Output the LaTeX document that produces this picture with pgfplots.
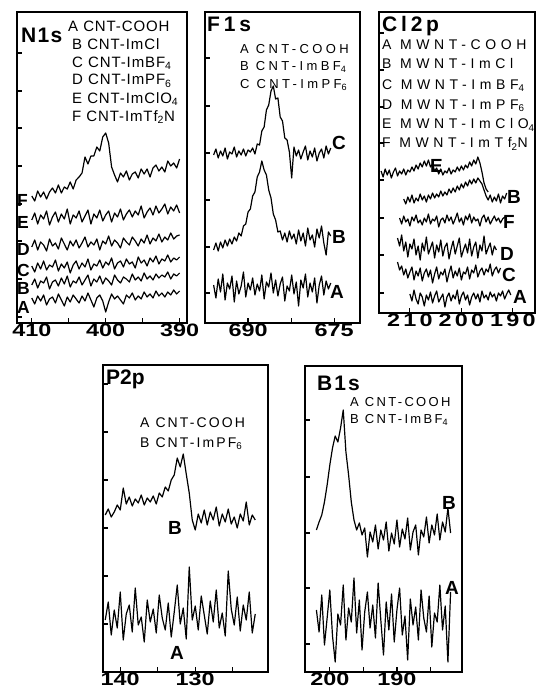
\documentclass[border=0pt]{standalone}
\usepackage{fontspec}
\setmainfont{Liberation Sans}
\newfontfamily\tickf[FakeStretch=1.3]{Liberation Sans}
\usepackage{pgfplots}
\pgfplotsset{compat=1.18}
\usepackage{pgfplotstable}

% text styles
\newcommand\tickfont{\fontsize{18}{18}\tickf\bfseries}
\newcommand\ttl[1]{\fontsize{21}{21}\selectfont\bfseries\addfontfeature{LetterSpace=#1}}
\newcommand\leg[2]{\fontsize{#1}{#1}\selectfont\addfontfeature{LetterSpace=#2}}
\newcommand\lab{\fontsize{19}{19}\selectfont\bfseries}
\newcommand\labs{\fontsize{17.5}{17.5}\selectfont\bfseries}

% N1s: x F E D C B A
\pgfplotstableread{
x F E D C B A
410.0 134 110 83 64 45 32
409.6 129 117 90 58 51 26
409.2 139 106 80 67 42 34
408.8 133 115 88 61 49 29
408.4 138 111 85 69 47 35
408.0 131 119 79 60 53 25
407.6 138 105 91 65 41 31
407.2 142 113 84 63 48 33
406.8 137 118 87 70 50 27
406.4 145 108 81 59 44 36
406.0 137 116 92 66 52 30
405.6 143 111 86 62 46 24
405.2 141 121 80 68 54 33
404.8 148 106 89 57 43 28
404.4 141 115 84 65 49 35
404.0 150 112 90 69 47 31
403.6 153 119 82 61 53 27
403.2 157 108 87 67 45 34
402.8 173 114 93 63 50 29
402.4 166 120 83 71 55 37
402.0 174 106 88 60 44 30
401.6 174 116 85 66 51 23
401.2 183 112 91 64 48 32
400.8 179 120 80 70 54 35
400.4 193 109 89 62 46 29
400.0 197 115 86 68 52 18
399.6 187 119 94 65 49 28
399.2 163 108 84 72 45 36
398.8 155 117 90 61 55 31
398.4 148 113 87 67 50 34
398.0 157 121 82 69 47 30
397.6 153 110 92 63 53 26
397.2 159 116 88 71 51 35
396.8 150 120 85 66 48 32
396.4 156 113 93 68 56 37
396.0 158 119 89 62 50 30
395.6 152 115 84 73 53 34
395.2 161 124 91 67 49 31
394.8 156 112 87 70 57 38
394.4 161 118 95 64 51 33
394.0 153 122 86 72 54 36
393.6 162 115 92 68 50 32
393.2 165 124 89 74 56 39
392.8 159 117 96 66 52 34
392.4 163 121 88 71 55 37
392.0 158 126 93 69 53 33
391.6 169 116 90 75 58 38
391.2 164 123 97 68 51 35
390.8 167 119 91 72 56 40
390.4 162 125 94 70 54 36
390.0 171 117 95 73 57 39
}\nonedata

% F1s: x C B A
\pgfplotstableread{
x C B A
696.0 175 80 45
695.6 181 87 32
695.2 172 79 51
694.8 179 88 38
694.4 174 82 56
694.0 182 90 30
693.6 171 84 47
693.2 178 91 41
692.8 176 86 54
692.4 183 93 28
692.0 173 89 49
691.6 179 97 36
691.2 175 94 44
690.8 181 104 58
690.4 174 106 33
690.0 180 118 47
689.6 178 121 40
689.2 182 134 52
688.8 176 138 35
688.4 186 153 46
688.0 185 158 39
687.6 199 169 55
687.2 203 160 31
686.8 220 155 48
686.4 225 140 43
686.0 239 132 57
685.6 244 116 37
685.2 231 110 50
684.8 232 98 34
684.4 213 99 46
684.0 209 90 53
683.6 192 97 29
683.2 190 88 44
682.8 178 99 39
682.4 152 91 55
682.0 183 96 36
681.6 174 86 48
681.2 180 100 24
680.8 171 89 50
680.4 178 97 42
680.0 184 84 56
679.6 170 102 33
679.2 179 90 47
678.8 173 95 38
678.4 182 83 52
678.0 169 101 27
677.6 177 92 45
677.2 181 104 54
676.8 172 87 35
676.4 184 75 49
676.0 176 98 41
675.6 182 94 47
}\fonedata

% P2p: x B A
\pgfplotstableread{
x B A
142.0 165 60
141.6 171 78
141.2 163 45
140.8 168 70
140.4 175 52
140.0 170 88
139.6 192 40
139.2 176 66
138.8 183 75
138.4 174 48
138.0 181 92
137.6 177 55
137.2 185 63
136.8 175 38
136.4 182 80
136.0 178 58
135.6 184 71
135.2 176 47
134.8 187 85
134.4 183 62
134.0 193 50
133.6 189 77
133.2 200 43
132.8 205 68
132.4 222 95
132.0 213 56
131.6 226 72
131.2 206 41
130.8 187 113
130.4 160 60
130.0 150 74
129.6 166 50
129.2 157 84
128.8 170 65
128.4 155 46
128.0 168 79
127.6 160 58
127.2 173 90
126.8 154 52
126.4 166 67
126.0 158 44
125.6 171 109
125.2 156 71
124.8 163 55
124.4 152 83
124.0 166 49
123.6 159 75
123.2 178 60
122.8 155 88
122.4 165 47
122.0 160 66
}\ptwopdata

% B1s: x B A
\pgfplotstableread{
x B A
202.0 150 70
201.6 158 48
201.2 165 85
200.8 178 35
200.4 195 62
200.0 215 90
199.6 232 44
199.2 244 18
198.8 238 66
198.4 252 55
198.0 270 95
197.6 228 40
197.2 205 72
196.8 178 58
196.4 160 102
196.0 150 47
195.6 157 80
195.2 145 30
194.8 152 68
194.4 123 88
194.0 148 52
193.6 138 75
193.2 155 42
192.8 131 97
192.4 150 60
192.0 140 25
191.6 158 78
191.2 129 50
190.8 147 86
190.4 136 38
190.0 160 70
189.6 133 92
189.2 151 45
188.8 141 64
188.4 162 20
188.0 130 81
187.6 148 55
187.2 155 73
186.8 125 40
186.4 150 90
186.0 143 62
185.6 163 48
185.2 137 84
184.8 155 33
184.4 145 67
184.0 166 58
183.6 140 95
183.2 158 50
182.8 148 74
182.4 172 18
182.0 147 88
}\bonedata

\pgfplotsset{
  xps/.style={
    scale only axis,
    x dir=reverse,
    axis line style={line width=1.8pt},
    tick align=inside,
    tick pos=left,
    major tick length=5pt,
    every tick/.style={black, line width=1.2pt},
    yticklabels={},
    xticklabel style={font=\tickfont, inner sep=1pt},
    /pgf/number format/assume math mode=true,
    cycle list={{black,mark=none,line width=1.2pt,line join=round},{black,mark=none,line width=1.2pt,line join=round}},
  },
}

\begin{document}
\begin{tikzpicture}[x=1pt, y=1pt]
\path[use as bounding box] (0,0) rectangle (539,699);

% N1s
\begin{axis}[xps, at={(17pt,376pt)}, anchor=south west,
  width=170pt, height=311pt,
  xmin=389, xmax=412, ymin=7, ymax=318,
  xtick={390,395,400,405,410}, xticklabels={390,,400,,410},
  ytick={13,51,89,126,164,202,239,277}]
\addplot table[x=x, y=A] {\nonedata};
\addplot table[x=x, y=B] {\nonedata};
\addplot table[x=x, y=C] {\nonedata};
\addplot table[x=x, y=D] {\nonedata};
\addplot table[x=x, y=E] {\nonedata};
\addplot table[x=x, y=F] {\nonedata};
\end{axis}

% F1s
\begin{axis}[xps, at={(205pt,376pt)}, anchor=south west,
  width=155pt, height=311pt,
  xmin=670.5, xmax=697.5, ymin=7, ymax=318,
  xtick={675,682.5,690}, xticklabels={675,,690},
  ytick={37,83,130,177,224,272}]
\addplot table[x=x, y=A] {\fonedata};
\addplot table[x=x, y=B] {\fonedata};
\addplot table[x=x, y=C] {\fonedata};
\end{axis}

% Cl2p
\begin{axis}[xps, at={(379pt,386pt)}, anchor=south west,
  width=156pt, height=301pt,
  xmin=185.7, xmax=216, ymin=17, ymax=318,
  xtick={190,200,210}, xticklabels={190,200,210},
  xticklabel style={font=\tickfont\addfontfeature{LetterSpace=18}},
  ytick={37,75,112,150,187,223,260,297}]
% E
\addplot coordinates {
(215.6,159)(215.2,153)(214.8,161)(214.4,155)(214.0,160)(213.6,152)(213.2,158)(212.8,162)(212.4,154)(212.0,159)
(211.6,156)(211.2,161)(210.8,155)(210.4,160)(210.0,158)(209.6,163)(209.2,159)(208.8,165)(208.4,161)(208.0,167)
(207.6,163)(207.2,169)(206.8,164)(206.4,170)(206.0,163)(205.6,166)(205.2,159)(204.8,162)(204.4,156)(204.0,161)
(203.6,155)(203.2,159)(202.8,157)(202.4,162)(202.0,156)(201.6,160)(201.2,158)(200.8,163)(200.4,159)(200.0,164)
(199.6,160)(199.2,165)(198.8,162)(198.4,168)(198.0,164)(197.6,170)(197.2,166)(196.8,173)(196.4,167)(196.0,158)
(195.6,147)(195.2,141)(194.8,138)};
% B
\addplot coordinates {
(211.2,131)(210.8,126)(210.4,133)(210.0,128)(209.6,135)(209.2,127)(208.8,132)(208.4,129)(208.0,136)(207.6,130)
(207.2,134)(206.8,128)(206.4,135)(206.0,131)(205.6,137)(205.2,132)(204.8,136)(204.4,133)(204.0,139)(203.6,134)
(203.2,138)(202.8,135)(202.4,141)(202.0,137)(201.6,142)(201.2,138)(200.8,144)(200.4,140)(200.0,146)(199.6,142)
(199.2,148)(198.8,144)(198.4,150)(198.0,146)(197.6,151)(197.2,147)(196.8,152)(196.4,149)(196.0,146)(195.6,140)
(195.2,134)(194.8,130)(194.4,135)(194.0,128)(193.6,133)(193.2,129)(192.8,136)(192.4,127)(192.0,134)(191.6,131)
(191.2,137)};
% F
\addplot coordinates {
(212.0,112)(211.6,106)(211.2,114)(210.8,108)(210.4,111)(210.0,104)(209.6,113)(209.2,109)(208.8,115)(208.4,107)
(208.0,110)(207.6,105)(207.2,112)(206.8,108)(206.4,116)(206.0,106)(205.6,111)(205.2,109)(204.8,114)(204.4,103)
(204.0,110)(203.6,112)(203.2,107)(202.8,115)(202.4,109)(202.0,113)(201.6,106)(201.2,111)(200.8,117)(200.4,108)
(200.0,112)(199.6,105)(199.2,114)(198.8,110)(198.4,116)(198.0,107)(197.6,113)(197.2,109)(196.8,111)(196.4,104)
(196.0,112)(195.6,115)(195.2,108)(194.8,113)(194.4,106)(194.0,110)(193.6,114)(193.2,109)(192.8,112)(192.4,107)
(192.0,111)(191.6,113)(191.2,110)};
% D
\addplot coordinates {
(212.4,92)(212.0,84)(211.6,95)(211.2,79)(210.8,88)(210.4,73)(210.0,86)(209.6,81)(209.2,91)(208.8,75)
(208.4,84)(208.0,70)(207.6,87)(207.2,79)(206.8,93)(206.4,76)(206.0,82)(205.6,88)(205.2,72)(204.8,85)
(204.4,78)(204.0,90)(203.6,74)(203.2,83)(202.8,87)(202.4,71)(202.0,81)(201.6,89)(201.2,76)(200.8,84)
(200.4,92)(200.0,73)(199.6,80)(199.2,86)(198.8,77)(198.4,91)(198.0,74)(197.6,83)(197.2,88)(196.8,72)
(196.4,85)(196.0,79)(195.6,94)(195.2,76)(194.8,82)(194.4,87)(194.0,75)(193.6,84)(193.2,80)};
% C
\addplot coordinates {
(212.4,68)(212.0,60)(211.6,64)(211.2,55)(210.8,61)(210.4,52)(210.0,58)(209.6,63)(209.2,50)(208.8,59)
(208.4,54)(208.0,62)(207.6,49)(207.2,57)(206.8,61)(206.4,53)(206.0,60)(205.6,47)(205.2,56)(204.8,63)
(204.4,51)(204.0,58)(203.6,55)(203.2,61)(202.8,48)(202.4,57)(202.0,64)(201.6,52)(201.2,59)(200.8,54)
(200.4,62)(200.0,50)(199.6,58)(199.2,56)(198.8,63)(198.4,51)(198.0,60)(197.6,57)(197.2,65)(196.8,53)
(196.4,59)(196.0,62)(195.6,55)(195.2,61)(194.8,58)(194.4,66)(194.0,54)(193.6,60)(193.2,63)(192.8,57)
(192.4,62)};
% A
\addplot coordinates {
(210.0,36)(209.6,29)(209.2,40)(208.8,31)(208.4,26)(208.0,37)(207.6,33)(207.2,24)(206.8,35)(206.4,30)
(206.0,38)(205.6,27)(205.2,34)(204.8,39)(204.4,28)(204.0,32)(203.6,36)(203.2,23)(202.8,33)(202.4,37)
(202.0,29)(201.6,35)(201.2,31)(200.8,40)(200.4,26)(200.0,34)(199.6,38)(199.2,30)(198.8,35)(198.4,25)
(198.0,33)(197.6,37)(197.2,31)(196.8,36)(196.4,28)(196.0,39)(195.6,32)(195.2,35)(194.8,30)(194.4,38)
(194.0,33)(193.6,36)(193.2,29)(192.8,37)(192.4,34)(192.0,39)(191.6,31)(191.2,36)(190.8,40)(190.4,35)};
\end{axis}

% P2p
\begin{axis}[xps, at={(103pt,27pt)}, anchor=south west,
  width=165pt, height=307pt,
  xmin=120.3, xmax=142.3, ymin=8, ymax=315,
  xtick={125,130,135,140}, xticklabels={,130,,140},
  ytick={56,104,152,200,248,296}]
\addplot table[x=x, y=A] {\ptwopdata};
\addplot table[x=x, y=B] {\ptwopdata};
\end{axis}

% B1s
\begin{axis}[xps, at={(305pt,27pt)}, anchor=south west,
  width=157pt, height=306pt,
  xmin=180.3, xmax=203.7, ymin=8, ymax=314,
  xtick={185,190,195,200}, xticklabels={,190,,200},
  ytick={36,92,147,203,260}]
\addplot table[x=x, y=A] {\bonedata};
\addplot table[x=x, y=B] {\bonedata};
\end{axis}

% texts, placed in picture pixels (y downwards)
\begin{scope}[shift={(0,699)}, y=-1pt, every node/.style={anchor=west, inner sep=0pt}]
% N1s
\node[font=\ttl{6}] at (21,35) {N1s};
\node[font=\leg{15}{6}] at (68,26) {A CNT-COOH};
\node[font=\leg{15}{6}] at (72,44) {B CNT-ImCl};
\node[font=\leg{15}{6}] at (72,63) {C CNT-ImBF\textsubscript{4}};
\node[font=\leg{15}{6}] at (72,81) {D CNT-ImPF\textsubscript{6}};
\node[font=\leg{15}{6}] at (72,99) {E CNT-ImClO\textsubscript{4}};
\node[font=\leg{15}{6}] at (72,117) {F CNT-ImTf\textsubscript{2}N};
\node[font=\labs] at (17,200) {F};
\node[font=\labs] at (17,222) {E};
\node[font=\labs] at (17,249) {D};
\node[font=\labs] at (17,270) {C};
\node[font=\labs] at (17,288) {B};
\node[font=\labs] at (17,307) {A};
% F1s
\node[font=\ttl{18}] at (207,24) {F1s};
\node[font=\leg{13}{26}] at (240,49) {A CNT-COOH};
\node[font=\leg{13}{26}] at (240,67) {B CNT-ImBF\textsubscript{4}};
\node[font=\leg{13}{26}] at (240,85) {C CNT-ImPF\textsubscript{6}};
\node[font=\lab] at (332,143) {C};
\node[font=\lab] at (332,237) {B};
\node[font=\lab] at (330,292) {A};
% Cl2p
\node[font=\ttl{18}] at (382,26) {Cl2p};
\node[font=\leg{14}{33}] at (382,45) {A MWNT-COOH};
\node[font=\leg{14}{33}] at (382,64) {B MWNT-ImCl};
\node[font=\leg{14}{33}] at (382,86) {C MWNT-ImBF\textsubscript{4}};
\node[font=\leg{14}{33}] at (382,106) {D MWNT-ImPF\textsubscript{6}};
\node[font=\leg{14}{33}] at (382,125) {E MWNT-ImClO\textsubscript{4}};
\node[font=\leg{14}{33}] at (382,144) {F MWNT-ImTf\textsubscript{2}N};
\node[font=\lab] at (430,166) {E};
\node[font=\lab] at (507,197) {B};
\node[font=\lab] at (503,222) {F};
\node[font=\lab] at (500,254) {D};
\node[font=\lab] at (502,275) {C};
\node[font=\lab] at (513,297) {A};
% P2p
\node[font=\ttl{0}] at (106,379) {P2p};
\node[font=\leg{14}{15}] at (140,423) {A CNT-COOH};
\node[font=\leg{14}{15}] at (140,444) {B CNT-ImPF\textsubscript{6}};
\node[font=\lab] at (168,528) {B};
\node[font=\lab] at (170,653) {A};
% B1s
\node[font=\ttl{10}] at (317,383) {B1s};
\node[font=\leg{13}{18}] at (350,402) {A CNT-COOH};
\node[font=\leg{13}{18}] at (350,420) {B CNT-ImBF\textsubscript{4}};
\node[font=\lab] at (442,503) {B};
\node[font=\lab] at (445,588) {A};
\end{scope}
\end{tikzpicture}
\end{document}
